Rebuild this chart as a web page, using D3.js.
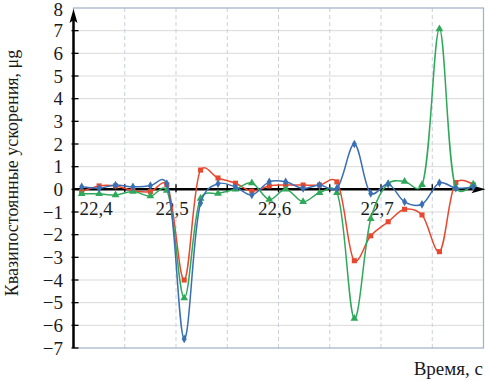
<!DOCTYPE html>
<html>
<head>
<meta charset="utf-8">
<script src="https://cdn.jsdelivr.net/npm/d3@7"></script>
<style>
    body { margin: 0; background: #fff; }
    svg text { font-family: "Times New Roman", Times, "Liberation Serif", "DejaVu Serif", serif; fill: #1a1a1a; }
</style>
</head>
<body>
<script>
// time samples, s
const times = [22.408, 22.425, 22.441, 22.458, 22.475, 22.491, 22.508, 22.524, 22.541, 22.558, 22.574, 22.591,
               22.607, 22.624, 22.640, 22.657, 22.674, 22.690, 22.707, 22.723, 22.740, 22.757, 22.773, 22.790];
// quasi-static accelerations, μg
const blueSeries  = [0.11, 0.05, 0.19, 0.11, 0.16, 0.25, -6.6, -0.6, 0.25, 0.1, -0.25, 0.33,
                     0.33, 0.04, 0.19, 0.05, 2.0, -0.18, 0.23, -0.55, -0.66, 0.29, 0.05, 0.11];
const redSeries   = [-0.1, 0.15, 0.15, -0.05, -0.1, 0.2, -4.0, 0.85, 0.5, 0.27, -0.08, 0.15,
                     0.19, 0.19, 0.19, 0.33, -3.15, -2.05, -1.43, -0.88, -1.13, -2.75, 0.3, 0.2];
const greenSeries = [-0.2, -0.2, -0.25, -0.1, -0.3, -0.05, -4.8, -0.4, -0.18, 0.0, 0.28, -0.45,
                     0.0, -0.55, -0.15, -0.15, -5.7, -1.3, 0.25, 0.35, 0.2, 7.07, 0.08, 0.23];

const yTicks = [8, 7, 6, 5, 4, 3, 2, 1, 0, -1, -2, -3, -4, -5, -6, -7];
const xTickLabels = [22.4, 22.5, 22.6, 22.7];
const xTickMarks = [22.45, 22.5, 22.55, 22.6, 22.65, 22.7, 22.75];

const width = 490, height = 381;
const svg = d3.select("body").append("svg")
    .attr("width", width)
    .attr("height", height);

let x = d3.scaleLinear().domain([22.4, 22.8]).range([73.5, 483.5]);
let y = d3.scaleLinear().domain([-7, 8]).range([348, 8]);

// grid
svg.append("g").selectAll("line")
    .data(yTicks.filter(d => d > -7 && d < 8))
    .enter().append("line")
    .attr("x1", x(22.4)).attr("x2", x(22.8))
    .attr("y1", d => y(d)).attr("y2", d => y(d))
    .style("stroke", "#dadada").style("stroke-width", 1);

svg.append("g").selectAll("line")
    .data(xTickMarks)
    .enter().append("line")
    .attr("x1", d => x(d)).attr("x2", d => x(d))
    .attr("y1", y(8)).attr("y2", y(-7))
    .style("stroke", "#c9d0dc").style("stroke-width", 1)
    .style("stroke-dasharray", "4,3");

// frame
svg.append("rect")
    .attr("x", x(22.4)).attr("y", y(8))
    .attr("width", x(22.8) - x(22.4)).attr("height", y(-7) - y(8))
    .style("fill", "none").style("stroke", "#9fb0c6").style("stroke-width", 1.2);

// axes with arrows
let ax = svg.append("g").style("stroke", "#000");
ax.append("line")
    .attr("x1", x(22.4)).attr("x2", x(22.8) - 4)
    .attr("y1", y(0)).attr("y2", y(0))
    .style("stroke-width", 2.5);
ax.append("line")
    .attr("x1", x(22.4)).attr("x2", x(22.4))
    .attr("y1", y(-7)).attr("y2", y(8) + 6)
    .style("stroke-width", 2.5);
ax.append("path")
    .attr("d", `M${x(22.8) + 2},${y(0)} L${x(22.8) - 12},${y(0) - 4} L${x(22.8) - 9},${y(0)} L${x(22.8) - 12},${y(0) + 4}Z`)
    .style("fill", "#000").style("stroke", "none");
ax.append("path")
    .attr("d", `M${x(22.4)},${y(8) + 1} L${x(22.4) - 4},${y(8) + 15} L${x(22.4)},${y(8) + 12} L${x(22.4) + 4},${y(8) + 15}Z`)
    .style("fill", "#000").style("stroke", "none");

ax.selectAll(".ytick")
    .data(yTicks.filter(d => d !== 8))
    .enter().append("line")
    .attr("x1", x(22.4) - 2).attr("x2", x(22.4) + 5)
    .attr("y1", d => y(d)).attr("y2", d => y(d))
    .style("stroke-width", 1.3);

ax.selectAll(".xtick")
    .data(xTickMarks)
    .enter().append("line")
    .attr("x1", d => x(d)).attr("x2", d => x(d))
    .attr("y1", y(0) - 5).attr("y2", y(0) + 3)
    .style("stroke-width", 1.3);

// tick labels
svg.append("g").selectAll("text")
    .data(yTicks)
    .enter().append("text")
    .attr("x", 63)
    .attr("y", d => d === 8 ? y(d) + 8 : y(d) + 6.5)
    .attr("text-anchor", "end")
    .style("font-size", "19px")
    .text(d => d < 0 ? "\u2212" + Math.abs(d) : d);

svg.append("g").selectAll("text")
    .data(xTickLabels)
    .enter().append("text")
    .attr("x", d => d === 22.4 ? x(d) + 6 : x(d) - 4)
    .attr("y", y(0) + 26)
    .attr("text-anchor", d => d === 22.4 ? "start" : "middle")
    .style("font-size", "19px")
    .text(d => d3.format(".1f")(d).replace(".", ","));

// titles
svg.append("text")
    .attr("transform", "translate(18,173) rotate(-90)")
    .attr("text-anchor", "middle")
    .style("font-size", "18px")
    .text("Квазипостоянные ускорения, μg");

svg.append("text")
    .attr("x", 483).attr("y", 375)
    .attr("text-anchor", "end")
    .style("font-size", "19px")
    .text("Время, с");

// series
let series = [
    {name: "red", values: redSeries, color: "#e8482e", symbol: d3.symbolSquare, size: 26},
    {name: "green", values: greenSeries, color: "#2fa85a", symbol: d3.symbolTriangle, size: 26},
    {name: "blue", values: blueSeries, color: "#3b6fb4", symbol: d3.symbolDiamond, size: 22}
];

let line = d3.line()
    .x((d, i) => x(times[i]))
    .y(d => y(d))
    .curve(d3.curveCatmullRom.alpha(0.25));

series.forEach(function (s) {
    let g = svg.append("g").attr("class", s.name);
    g.append("path")
        .datum(s.values)
        .attr("d", line)
        .style("fill", "none")
        .style("stroke", s.color)
        .style("stroke-width", 1.5);
    g.selectAll("path.pt")
        .data(s.values)
        .enter().append("path")
        .attr("class", "pt")
        .attr("transform", (d, i) => "translate(" + x(times[i]) + "," + y(d) + ")")
        .attr("d", d3.symbol().type(s.symbol).size(s.size))
        .style("fill", s.color);
});
</script>
</body>
</html>
